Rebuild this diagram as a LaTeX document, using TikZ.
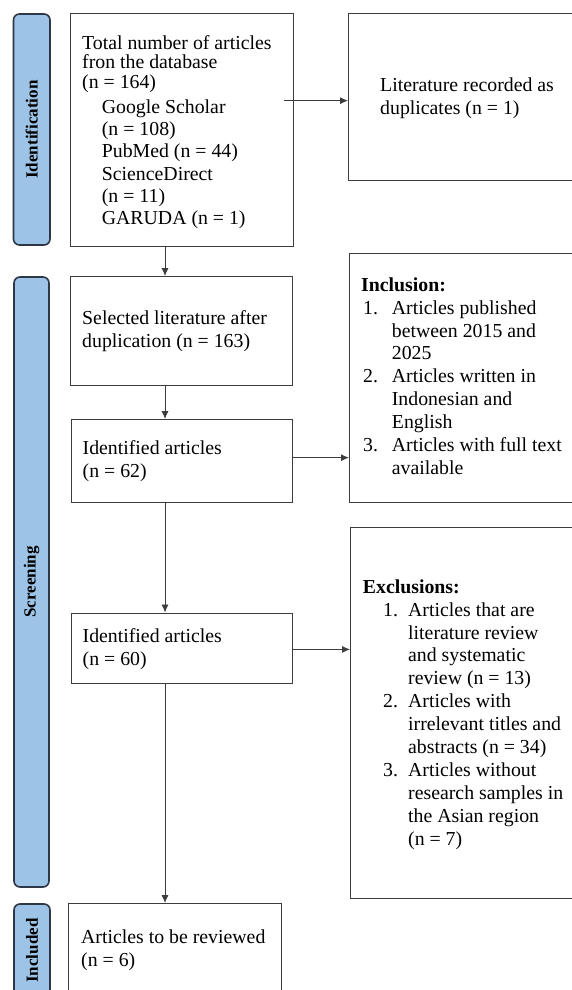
\documentclass[tikz,border=0pt]{standalone}
\usepackage{fontspec}
\setmainfont{Liberation Serif}
\usetikzlibrary{arrows.meta,calc}
\definecolor{pillfill}{RGB}{157,195,230}
\definecolor{pilldraw}{RGB}{45,55,70}
\definecolor{boxdraw}{RGB}{60,60,60}
\definecolor{arrdraw}{RGB}{60,60,60}
\begin{document}
\begin{tikzpicture}[x=1pt,y=-1pt,
  flowbox/.style={draw=boxdraw, line width=1.3pt, fill=white, rectangle, anchor=north west, inner sep=0pt},
  pill/.style={draw=pilldraw, line width=1.6pt, fill=pillfill, rounded corners=6pt, rotate=90, inner sep=0pt, font=\bfseries\fontsize{17}{20}\selectfont},
  boxtext/.style={anchor=north west, inner sep=0pt, align=left, font=\fontsize{19.8}{22.9}\selectfont},
  arr/.style={draw=arrdraw, line width=0.9pt, -{Latex[length=8pt,width=7pt]}}]
\useasboundingbox (0,0) rectangle (572,990);
\clip (0,0) rectangle (572,990);
\fill[white] (0,0) rectangle (572,990);

% phase pills
\node[pill, minimum width=231pt, minimum height=36.5pt] (ident) at (31.75,129.5) {Identification};
\node[pill, minimum width=610pt, minimum height=35pt] (screen) at (31.5,582) {Screening};
\node[pill, minimum width=93pt, minimum height=36pt] (incl) at (32,950.5) {Included};

% boxes
\node[flowbox, minimum width=223pt, minimum height=233pt] (b1) at (70,13) {};
\node[flowbox, minimum width=222pt, minimum height=109pt] (b2) at (70,276) {};
\node[flowbox, minimum width=221.5pt, minimum height=82.5pt] (b3) at (70.5,419) {};
\node[flowbox, minimum width=221.5pt, minimum height=70pt] (b4) at (70.5,612.5) {};
\node[flowbox, minimum width=213pt, minimum height=95pt] (b5) at (68,903) {};
\node[flowbox, minimum width=240pt, minimum height=167pt] (dup) at (348,13) {};
\node[flowbox, minimum width=240pt, minimum height=249pt] (inc) at (349,252.5) {};
\node[flowbox, minimum width=240pt, minimum height=371.5pt] (exc) at (350,526.5) {};

% texts
\node[boxtext] (t1) at (82,33.5) {\strut Total number of articles\\[-3.65pt]fron the database\\[-3.65pt](n = 164)\\[2.1pt]\hspace*{19.7pt}Google Scholar\\[-0.6pt]\hspace*{19.7pt}(n = 108)\\[-0.6pt]\hspace*{19.7pt}PubMed (n = 44)\\[-0.6pt]\hspace*{19.7pt}ScienceDirect\\[-0.6pt]\hspace*{19.7pt}(n = 11)\\[-0.6pt]\hspace*{19.7pt}GARUDA (n = 1)};
\node[boxtext] (tdup) at (380,75.2) {\strut Literature recorded as\\duplicates (n = 1)};
\node[boxtext] (t2) at (82,308.5) {\strut Selected literature after\\duplication (n = 163)};
\node[boxtext] (t3) at (82.5,438) {\strut Identified articles\\(n = 62)};
\node[boxtext] (t4) at (82.5,626) {\strut Identified articles\\(n = 60)};
\node[boxtext] (t5) at (81,927) {\strut Articles to be reviewed\\(n = 6)};
\node[boxtext] (tinc) at (361,275) {\strut\textbf{Inclusion:}\\
\hspace*{2pt}\makebox[28.7pt][l]{1.}Articles published\\
\hspace*{30.7pt}between 2015 and\\
\hspace*{30.7pt}2025\\
\hspace*{2pt}\makebox[28.7pt][l]{2.}Articles written in\\
\hspace*{30.7pt}Indonesian and\\
\hspace*{30.7pt}English\\
\hspace*{2pt}\makebox[28.7pt][l]{3.}Articles with full text\\
\hspace*{30.7pt}available};
\node[boxtext] (texc) at (362.7,577) {\strut\textbf{Exclusions:}\\
\hspace*{20.3pt}\makebox[25pt][l]{1.}Articles that are\\
\hspace*{45.3pt}literature review\\
\hspace*{45.3pt}and systematic\\
\hspace*{45.3pt}review (n = 13)\\
\hspace*{20.3pt}\makebox[25pt][l]{2.}Articles with\\
\hspace*{45.3pt}irrelevant titles and\\
\hspace*{45.3pt}abstracts (n = 34)\\
\hspace*{20.3pt}\makebox[25pt][l]{3.}Articles without\\
\hspace*{45.3pt}research samples in\\
\hspace*{45.3pt}the Asian region\\
\hspace*{45.3pt}(n = 7)};

% connectors
\coordinate (spine) at (165,0);
\draw[arr] (b1.south -| spine) -- (b2.north -| spine);
\draw[arr] ($(b1.east |- dup.west)+(-10,3.5)$) -- ($(dup.west)+(0,3.5)$);
\draw[arr] (b2.south -| spine) -- (b3.north -| spine);
\draw[arr] ($(b3.east)+(0,-3.25)$) -- ($(b3.east -| inc.west)+(0,-3.25)$);
\draw[arr] (b3.south -| spine) -- (b4.north -| spine);
\draw[arr] ($(b4.east)+(0,1.25)$) -- ($(b4.east -| exc.west)+(0,1.25)$);
\draw[arr] (b4.south -| spine) -- (b5.north -| spine);
\end{tikzpicture}
\end{document}
